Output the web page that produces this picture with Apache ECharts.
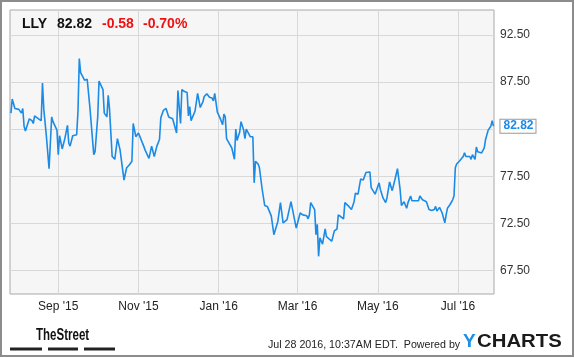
<!DOCTYPE html>
<html><head><meta charset="utf-8">
<script src="https://cdn.jsdelivr.net/npm/echarts@6/dist/echarts.min.js"></script>
<style>html,body{margin:0;padding:0;background:#fff}#c{width:575px;height:358px}</style>
</head><body><div id="c"></div><script>
const dates = [
'2015-07-27','2015-07-28','2015-07-30','2015-08-02','2015-08-04','2015-08-05','2015-08-06','2015-08-07','2015-08-10','2015-08-12',
'2015-08-13','2015-08-14','2015-08-17','2015-08-19','2015-08-20','2015-08-21','2015-08-23','2015-08-25','2015-08-27','2015-08-28',
'2015-08-31','2015-09-01','2015-09-02','2015-09-04','2015-09-06','2015-09-08','2015-09-09','2015-09-10','2015-09-12','2015-09-15',
'2015-09-16','2015-09-17','2015-09-18','2015-09-21','2015-09-23','2015-09-25','2015-09-28','2015-09-29','2015-10-01','2015-10-02',
'2015-10-05','2015-10-06','2015-10-08','2015-10-09','2015-10-10','2015-10-12','2015-10-14','2015-10-16','2015-10-18','2015-10-21',
'2015-10-22','2015-10-23','2015-10-25','2015-10-27','2015-10-28','2015-10-30','2015-11-01','2015-11-02','2015-11-05','2015-11-06',
'2015-11-09','2015-11-11','2015-11-13','2015-11-15','2015-11-17','2015-11-18','2015-11-20','2015-11-22','2015-11-24','2015-11-27',
'2015-11-29','2015-11-30','2015-12-01','2015-12-03','2015-12-04','2015-12-06','2015-12-08','2015-12-09','2015-12-10','2015-12-11',
'2015-12-14','2015-12-16','2015-12-18','2015-12-20','2015-12-21','2015-12-23','2015-12-25','2015-12-27','2015-12-28','2015-12-29',
'2015-12-30','2015-12-31','2016-01-02','2016-01-04','2016-01-05','2016-01-06','2016-01-07','2016-01-09','2016-01-11','2016-01-12',
'2016-01-13','2016-01-14','2016-01-15','2016-01-17','2016-01-18','2016-01-20','2016-01-21','2016-01-22','2016-01-24','2016-01-25',
'2016-01-26','2016-01-27','2016-01-28','2016-01-29','2016-01-31','2016-02-01','2016-02-03','2016-02-04','2016-02-05','2016-02-07',
'2016-02-08','2016-02-10','2016-02-12','2016-02-13','2016-02-15','2016-02-17','2016-02-19','2016-02-22','2016-02-25','2016-02-29',
'2016-03-03','2016-03-05','2016-03-08','2016-03-09','2016-03-10','2016-03-11','2016-03-14','2016-03-15','2016-03-16','2016-03-17',
'2016-03-18','2016-03-20','2016-03-22','2016-03-23','2016-03-27','2016-03-29','2016-03-31','2016-04-01','2016-04-03','2016-04-05',
'2016-04-06','2016-04-09','2016-04-11','2016-04-13','2016-04-14','2016-04-16','2016-04-18','2016-04-20','2016-04-21','2016-04-22',
'2016-04-25','2016-04-26','2016-04-27','2016-04-29','2016-05-02','2016-05-03','2016-05-05','2016-05-07','2016-05-08','2016-05-10',
'2016-05-12','2016-05-14','2016-05-16','2016-05-18','2016-05-19','2016-05-21','2016-05-23','2016-05-24','2016-05-26','2016-05-27',
'2016-06-01','2016-06-02','2016-06-04','2016-06-07','2016-06-09','2016-06-11','2016-06-13','2016-06-14','2016-06-15','2016-06-17',
'2016-06-19','2016-06-21','2016-06-22','2016-06-23','2016-06-25','2016-06-27','2016-06-28','2016-06-29','2016-06-30','2016-07-02',
'2016-07-05','2016-07-06','2016-07-07','2016-07-10','2016-07-11','2016-07-12','2016-07-14','2016-07-15','2016-07-16','2016-07-19',
'2016-07-21','2016-07-22','2016-07-24','2016-07-26','2016-07-27','2016-07-28'
];
const prices = [
84.2,85.7,84.7,84.6,84.2,84.7,82.8,82.3,83.6,83.4,
83.1,83.9,83.6,83.4,87.4,84.6,81.7,78.3,83.8,83.3,
82.4,79.8,81.8,80.4,81.5,82.9,81.0,80.7,81.8,81.9,
84.4,90.0,88.5,87.7,87.8,84.9,79.8,80.1,83.8,87.6,
86.7,84.2,83.8,86.1,84.6,79.6,79.3,81.5,80.3,77.1,
76.95,78.4,78.7,79.1,83.1,81.7,82.1,81.9,80.7,80.3,
79.4,80.7,79.6,80.7,81.4,83.7,84.5,84.7,83.8,83.6,
82.6,82.1,86.6,83.1,86.7,86.5,86.4,83.9,84.9,83.4,
84.4,86.3,84.8,85.4,85.96,86.25,85.9,85.8,85.5,86.3,
86.25,84.3,83.7,82.97,84.1,83.8,81.5,81.0,80.5,80.4,
79.3,82.5,81.3,82.2,83.3,82.4,81.5,82.5,81.98,81.7,
81.9,81.7,76.8,79.1,78.8,78.4,76.2,76.1,74.4,74.3,
74.1,73.3,71.3,71.2,72.7,74.7,72.55,72.9,74.8,72.0,
73.6,73.4,73.3,72.98,73.4,74.7,73.96,71.3,72.4,69.0,
70.96,70.3,71.9,71.1,70.6,71.7,71.9,73.4,73.2,72.98,
74.7,74.3,73.96,74.8,75.7,75.6,77.2,77.1,77.5,77.9,
77.96,76.3,76.4,75.6,76.8,76.1,75.2,74.7,75.2,76.9,
75.97,77.1,78.3,76.1,74.4,74.8,74.1,74.7,75.4,74.9,
74.9,75.4,75.0,74.8,73.96,73.86,73.96,74.3,73.8,74.2,
73.6,72.55,73.4,74.1,74.5,75.0,75.4,78.4,78.8,79.1,
79.6,80.0,79.6,79.6,79.3,79.8,79.3,80.6,80.1,79.97,
80.5,81.4,82.4,82.8,83.4,82.82
];
const yTickValues = [67.5, 72.5, 77.5, 82.5, 87.5, 92.5];
const yLabelValues = [67.5, 72.5, 77.5, 87.5, 92.5];
const xTickDates = ['2015-09-01','2015-11-01','2016-01-01','2016-03-01','2016-05-01','2016-07-01'];
const headerTexts = ['LLY', '82.82', '-0.58', '-0.70%'];
const footerText = 'Jul 28 2016, 10:37AM EDT.  Powered by';
const monthNames = ['Jan','Feb','Mar','Apr','May','Jun','Jul','Aug','Sep','Oct','Nov','Dec'];

function toTime(s) { const p = s.split('-').map(Number); return new Date(p[0], p[1] - 1, p[2]).getTime(); }
const HOUR = 3600000;
const FONT = '"Liberation Sans", Arial, sans-serif';

const chart = echarts.init(document.getElementById('c'), null, {renderer: 'canvas'});
chart.setOption({
  animation: false,
  backgroundColor: '#ffffff',
  grid: {left: 10, top: 10, right: 81, bottom: 64, show: true, backgroundColor: '#f6f6f6', borderColor: '#a8a8a8', borderWidth: 1, containLabel: false},
  xAxis: {
    type: 'value',
    min: toTime('2015-07-26') + 7 * HOUR,
    max: toTime('2016-07-28') + 10 * HOUR,
    axisLine: {show: false},
    axisTick: {show: false, customValues: xTickDates.map(toTime)},
    axisLabel: {
      customValues: xTickDates.map(toTime),
      formatter: function (v) { const d = new Date(v); return monthNames[d.getMonth()] + " '" + String(d.getFullYear()).slice(2); },
      color: '#222', fontSize: 12, fontFamily: FONT, margin: 7, hideOverlap: false
    },
    splitLine: {show: true, lineStyle: {color: '#d8d8d8', width: 1}}
  },
  yAxis: {
    type: 'value', position: 'right',
    min: 65.0, max: 95.15,
    axisLine: {show: false},
    axisTick: {show: false, customValues: yTickValues},
    axisLabel: {customValues: yLabelValues, formatter: v => v.toFixed(2), color: '#333', fontSize: 12, fontFamily: FONT, margin: 6},
    splitLine: {show: true, lineStyle: {color: '#d8d8d8', width: 1}}
  },
  series: [{
    type: 'line',
    data: dates.map((d, i) => [toTime(d), prices[i]]),
    showSymbol: false,
    lineStyle: {color: '#1b8be6', width: 1.6},
    itemStyle: {color: '#1b8be6'},
    clip: false,
    endLabel: {
      show: true,
      formatter: p => p.value[1].toFixed(2),
      distance: 7,
      color: '#1b8be6', fontWeight: 'bold', fontSize: 12, fontFamily: FONT,
      backgroundColor: '#ffffff', borderColor: '#999', borderWidth: 1,
      padding: [1, 2, 0, 3]
    }
  }],
  graphic: [
    {type: 'rect', z: 100, shape: {x: 1, y: 1, width: 572, height: 355}, style: {fill: 'none', stroke: '#8c8c8c', lineWidth: 2}},
    {type: 'text', z: 100, x: 22, y: 24, style: {text: headerTexts[0], fill: '#111', font: 'bold 14px ' + FONT, textVerticalAlign: 'middle'}},
    {type: 'text', z: 100, x: 57, y: 24, style: {text: headerTexts[1], fill: '#111', font: 'bold 14px ' + FONT, textVerticalAlign: 'middle'}},
    {type: 'text', z: 100, x: 102, y: 24, style: {text: headerTexts[2], fill: '#ee1111', font: 'bold 14px ' + FONT, textVerticalAlign: 'middle'}},
    {type: 'text', z: 100, x: 143, y: 24, style: {text: headerTexts[3], fill: '#ee1111', font: 'bold 14px ' + FONT, textVerticalAlign: 'middle'}},
    {type: 'text', z: 100, x: 36, y: 336, scaleX: 0.72, style: {text: 'TheStreet', fill: '#111', font: 'bold 16px ' + FONT, textVerticalAlign: 'middle'}},
    {type: 'rect', z: 100, shape: {x: 10, y: 347.5, width: 32, height: 3}, style: {fill: '#222'}},
    {type: 'rect', z: 100, shape: {x: 48, y: 347.5, width: 30, height: 3}, style: {fill: '#222'}},
    {type: 'rect', z: 100, shape: {x: 84, y: 347.5, width: 31, height: 3}, style: {fill: '#222'}},
    {type: 'text', z: 100, x: 268, y: 345, scaleX: 0.97, style: {text: footerText, fill: '#222', font: '11px ' + FONT, textVerticalAlign: 'middle'}},
    {type: 'text', z: 100, x: 463, y: 342, style: {text: 'Y', fill: '#1a8fe6', font: 'bold 19px ' + FONT, textVerticalAlign: 'middle'}},
    {type: 'text', z: 100, x: 477, y: 342, scaleX: 1.13, style: {text: 'CHARTS', fill: '#1a1a1a', font: 'bold 18px ' + FONT, textVerticalAlign: 'middle'}}
  ]
});
</script></body></html>
